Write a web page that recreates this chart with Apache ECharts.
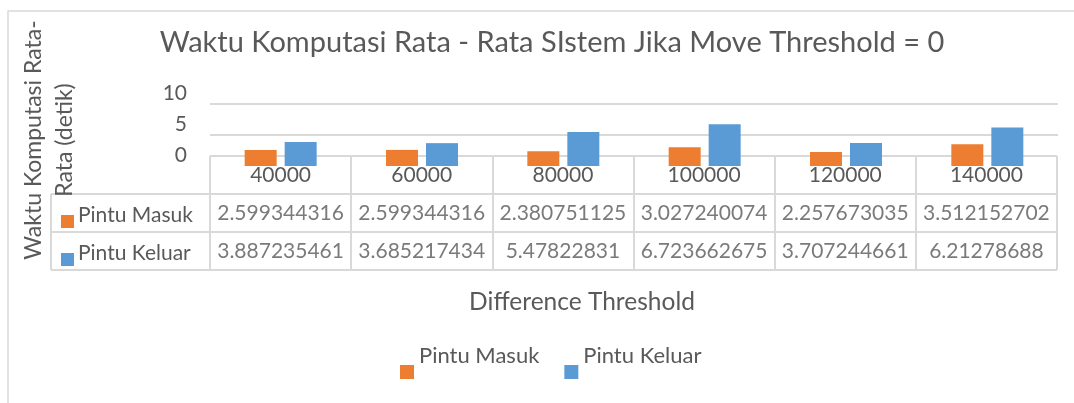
<!DOCTYPE html>
<html>
<head>
<meta charset="utf-8">
<script src="https://cdn.jsdelivr.net/npm/echarts@6/dist/echarts.min.js"></script>
<style>html,body{margin:0;padding:0;background:#fff;}#c{width:1074px;height:403px;}</style>
</head>
<body>
<div id="c"></div>
<script>
const titleText = 'Waktu Komputasi Rata - Rata SIstem Jika Move Threshold = 0';
const yAxisTitle = 'Waktu Komputasi Rata-\nRata (detik)';
const xAxisTitle = 'Difference Threshold';
const categories = ['40000', '60000', '80000', '100000', '120000', '140000'];
const seriesNames = ['Pintu Masuk', 'Pintu Keluar'];
const pintuMasuk = [2.599344316, 2.599344316, 2.380751125, 3.027240074, 2.257673035, 3.512152702];
const pintuKeluar = [3.887235461, 3.685217434, 5.47822831, 6.723662675, 3.707244661, 6.21278688];
const yTicks = [0, 5, 10];

const ORANGE = '#ED7D31', BLUE = '#5B9BD5', GRID = '#D9D9D9', TXT = '#595959';
const FONT = 'Lato';
const values = [pintuMasuk, pintuKeluar];

const chart = echarts.init(document.getElementById('c'), null, {renderer: 'canvas'});

const cellData = [];
values.forEach((arr, r) => arr.forEach((v, i) => cellData.push([i, r + 1, v])));

const option = {
  animation: false,
  textStyle: {fontFamily: FONT, color: TXT},
  title: {
    text: titleText, left: 547, top: 23, textAlign: 'center',
    textStyle: {fontFamily: FONT, fontSize: 29, fontWeight: 'normal', color: TXT}
  },
  legend: {
    data: seriesNames, left: 395, top: 340, icon: 'rect', itemWidth: 14, itemHeight: 14, itemGap: 25,
    formatter: '{a|{name}}',
    textStyle: {fontFamily: FONT, fontSize: 22, color: TXT,
      rich: {a: {fontFamily: FONT, fontSize: 22, color: TXT, padding: [0, 0, 32, 0]}}}
  },
  graphic: [
    {type: 'rect', shape: {x: 8, y: 11, width: 1200, height: 600}, style: {fill: 'none', stroke: GRID, lineWidth: 1.5}, silent: true, z: -10},
    {type: 'text', style: {text: xAxisTitle, x: 582, y: 302, align: 'center', verticalAlign: 'middle', fontFamily: FONT, fontSize: 24.5, fill: TXT}}
  ],
  grid: [
    {left: 210, right: 16, top: 104, bottom: 237},
    {left: 210, right: 17, top: 156, bottom: 133},
    {left: 51, width: 159, top: 194, bottom: 133}
  ],
  xAxis: [
    {type: 'category', data: categories, gridIndex: 0, axisLine: {show: false}, axisTick: {show: false}, axisLabel: {show: false}},
    {type: 'category', data: categories, gridIndex: 1, position: 'top',
     axisLine: {show: false}, axisTick: {show: false},
     axisLabel: {inside: true, margin: 7, fontFamily: FONT, fontSize: 21, lineHeight: 24, color: TXT},
     splitLine: {show: true, lineStyle: {color: GRID, width: 2}}},
    {type: 'value', gridIndex: 2, min: 0, max: 1, interval: 1, axisLine: {show: false}, axisTick: {show: false}, axisLabel: {show: false},
     splitLine: {show: true, lineStyle: {color: GRID, width: 2}}}
  ],
  yAxis: [
    {type: 'value', gridIndex: 0, min: yTicks[0], max: yTicks[yTicks.length - 1], interval: yTicks[1] - yTicks[0],
     axisLine: {show: false}, axisTick: {show: false},
     axisLabel: {margin: 23, fontFamily: FONT, fontSize: 21, color: TXT, verticalAlign: 'bottom'},
     splitLine: {show: true, showMinLine: false, lineStyle: {color: GRID, width: 2}},
     name: yAxisTitle, nameLocation: 'middle', nameGap: 130, nameRotate: 90,
     nameTextStyle: {fontFamily: FONT, fontSize: 23, lineHeight: 31, color: TXT, align: 'center', padding: [0, 10, 0, 0]}},
    {type: 'category', gridIndex: 1, data: ['', seriesNames[0], seriesNames[1]], inverse: true,
     axisLine: {show: false}, axisTick: {show: false}, axisLabel: {show: false},
     splitLine: {show: true, lineStyle: {color: GRID, width: 2}}},
    {type: 'category', gridIndex: 2, data: seriesNames, inverse: true,
     axisLine: {show: false}, axisTick: {show: false},
     axisLabel: {inside: true, margin: 10, padding: [10, 0, 0, 0],
       formatter: (v, i) => '{k' + i + '|}{t|' + v + '}',
       rich: {
         k0: {width: 13, height: 13, backgroundColor: ORANGE, verticalAlign: 'bottom'},
         k1: {width: 13, height: 13, backgroundColor: BLUE, verticalAlign: 'bottom'},
         t: {fontFamily: FONT, fontSize: 21, lineHeight: 20, color: TXT, padding: [0, 0, 6, 4]}
       }},
     splitLine: {show: true, lineStyle: {color: GRID, width: 2}}}
  ],
  series: [
    {name: seriesNames[0], type: 'bar', data: pintuMasuk, barWidth: 32, barGap: '25%', itemStyle: {color: ORANGE}},
    {name: seriesNames[1], type: 'bar', data: pintuKeluar, barWidth: 32, barGap: '25%', itemStyle: {color: BLUE}},
    {name: 'table', type: 'scatter', xAxisIndex: 1, yAxisIndex: 1, data: cellData, symbolSize: 0, silent: true,
     label: {show: true, position: 'inside', formatter: p => String(p.value[2]), fontFamily: FONT, fontSize: 21, color: TXT}}
  ]
};
chart.setOption(option);
</script>
</body>
</html>
